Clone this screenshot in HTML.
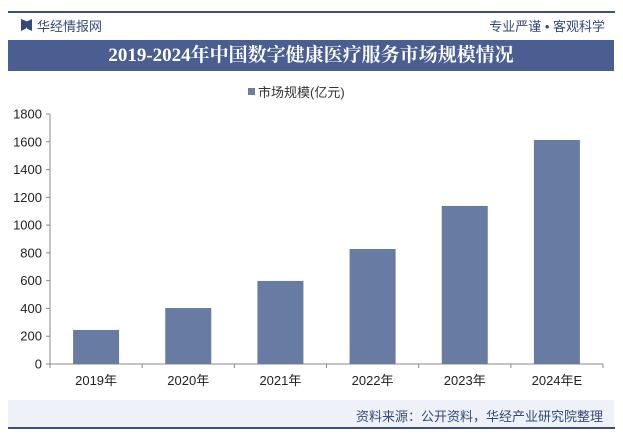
<!DOCTYPE html>
<html><head><meta charset="utf-8"><style>
body{margin:0;width:623px;height:438px;background:#fff;overflow:hidden;font-family:"Liberation Sans","Noto Sans CJK SC",sans-serif;position:relative}
.abs{position:absolute}
</style></head><body>
<div class="abs" style="left:8px;top:11px;width:607px;height:2px;background:#3c4f80"></div>
<div class="abs" style="left:21px;top:19px;width:11px;height:12px;background:#34497a;clip-path:polygon(0 0,45% 20%,45% 80%,0 100%,0 0,55% 20%,100% 0,100% 100%,55% 80%)"></div>
<div class="abs" style="left:37px;top:16px;font-size:13px;color:#34497a">华经情报网</div>
<div class="abs" style="right:18px;top:16px;font-size:13px;color:#34497a">专业严谨 • 客观科学</div>
<div class="abs" style="left:8px;top:40px;width:606px;height:31px;background:#4a5e91;color:#fff;font-family:'Liberation Serif','Noto Serif CJK SC',serif;font-weight:bold;font-size:19px;line-height:31px;text-align:center">2019-2024年中国数字健康医疗服务市场规模情况</div>
<div class="abs" style="left:248px;top:82px;font-size:13px;color:#333"><span style="display:inline-block;width:7px;height:7px;background:#6a7da3;margin-right:3px;vertical-align:2px"></span>市场规模(亿元)</div>
<svg class="abs" style="left:0;top:0" width="623" height="438">
<g id="g"></g></svg>
<div class="abs" style="left:8px;top:400px;width:606px;height:27px;background:#eef2f8"></div>
<div class="abs" style="right:20px;top:406px;font-size:13px;color:#34497a">资料来源：公开资料，华经产业研究院整理</div>
<div class="abs" style="left:8px;top:427px;width:607px;height:2px;background:#3c4f80"></div>
<script>
const categories=["2019年","2020年","2021年","2022年","2023年","2024年E"];
const values=[245,403,598,828,1138,1613];
const yTicks=[0,200,400,600,800,1000,1200,1400,1600,1800];
const ns="http://www.w3.org/2000/svg",g=document.getElementById('g');
const x0=50,x1=603,y0=364,yTop=114,band=(x1-x0)/categories.length;
const y=v=>y0-(v/1800)*(y0-yTop);
function mk(t,a){const e=document.createElementNS(ns,t);for(const k in a)e.setAttribute(k,a[k]);g.appendChild(e);return e;}
let ax=mk('line',{x1:x0,y1:yTop,x2:x0,y2:y0,stroke:'#888'});


let bx=mk('line',{x1:x0,y1:y0,x2:x1,y2:y0,stroke:'#888'});


yTicks.forEach(t=>{
 mk('line',{x1:x0-4,y1:y(t),x2:x0,y2:y(t),stroke:'#888'});
 const tx=mk('text',{x:x0-8,y:y(t)+4.5,'text-anchor':'end','font-size':13,fill:'#222'});tx.textContent=t;
 
 
});
for(let i=0;i<=categories.length;i++)mk('line',{x1:x0+i*band,y1:y0,x2:x0+i*band,y2:y0+4,stroke:'#888'});
categories.forEach((c,i)=>{
 const cx=x0+band*(i+0.5);
 const r=mk('rect',{x:cx-23,y:y(values[i]),width:46,height:y0-y(values[i]),fill:'#687ca3'});
 
 
 const t=mk('text',{x:cx,y:y0+21,'text-anchor':'middle','font-size':13,fill:'#222'});t.textContent=c;
 
 
});
</script>
</body></html>
